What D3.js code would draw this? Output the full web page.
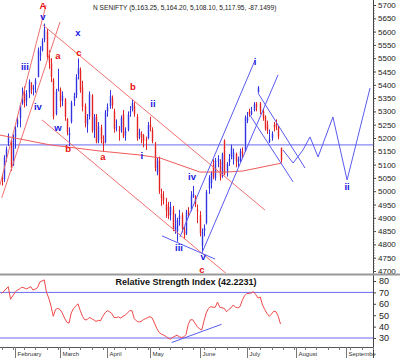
<!DOCTYPE html>
<html><head><meta charset="utf-8">
<script src="https://cdn.jsdelivr.net/npm/d3@7"></script>
<style>body{margin:0;background:#fff;} svg{display:block;font-family:Arial,"Liberation Sans",sans-serif;}</style>
</head><body><svg id="c" width="400" height="359"></svg>
<script>
// ---------- DATA ----------
const dates = ["01-23","01-24","01-25","01-27","01-30","01-31",
"02-01","02-02","02-03","02-06","02-07","02-08","02-09","02-10","02-13","02-14","02-15","02-16","02-17","02-21","02-22","02-23","02-24","02-27","02-28","02-29",
"03-01","03-02","03-05","03-06","03-07","03-09","03-12","03-13","03-14","03-15","03-16","03-19","03-20","03-21","03-22","03-23","03-26","03-27","03-28","03-29","03-30",
"04-02","04-03","04-04","04-09","04-10","04-11","04-12","04-13","04-16","04-17","04-18","04-19","04-20","04-23","04-24","04-25","04-26","04-27","04-30",
"05-02","05-03","05-04","05-07","05-08","05-09","05-10","05-11","05-14","05-15","05-16","05-17","05-18","05-21","05-22","05-23","05-24","05-25","05-28","05-29","05-30","05-31",
"06-01","06-04","06-05","06-06","06-07","06-08","06-11","06-12","06-13","06-14","06-15","06-18","06-19","06-20","06-21","06-22","06-25","06-26","06-27","06-28","06-29",
"07-02","07-03","07-04","07-05","07-06","07-09","07-10","07-11","07-12","07-13","07-16","07-17","07-18","07-19","07-20","07-23"];
const open  = [5050,5046,5130,5180,5190,5100,5205,5250,5275,5330,5365,5340,5370,5400,5385,5400,5430,5510,5530,5570,5600,5500,5480,5420,5290,5380,
5380,5340,5345,5270,5210,5260,5340,5360,5440,5455,5390,5320,5250,5280,5360,5230,5280,5190,5240,5190,5185,
5300,5320,5350,5300,5240,5230,5230,5290,5210,5230,5295,5310,5320,5280,5210,5215,5210,5195,5200,
5250,5230,5180,5070,5115,4990,4980,4950,4940,4910,4930,4850,4850,4895,4910,4850,4840,4925,4930,4980,4980,4930,
4910,4795,4850,4880,5010,5030,5100,5050,5110,5110,5060,5190,5070,5110,5130,5120,5140,5110,5115,5150,5150,
5265,5300,5290,5305,5330,5372,5330,5300,5280,5250,5185,5200,5250,5255,5240,5163.25];
const high  = [5065,5135,5168,5217,5195,5214,5245,5283,5330,5390,5394,5380,5420,5410,5400,5425,5540,5545,5575,5630,5610,5530,5500,5425,5385,5460,
5390,5375,5350,5275,5240,5340,5370,5440,5499,5465,5415,5330,5290,5375,5365,5290,5290,5260,5250,5210,5305,
5330,5380,5360,5310,5270,5245,5285,5305,5240,5300,5320,5345,5335,5290,5235,5225,5215,5205,5260,
5280,5240,5185,5125,5130,5010,5000,4975,4960,4960,4945,4915,4900,4930,4920,4865,4930,4940,5000,5020,4985,4950,
4925,4860,4875,5005,5060,5075,5120,5125,5135,5120,5145,5195,5110,5140,5175,5160,5145,5130,5160,5165,5285,
5298,5310,5317,5335,5335,5395,5335,5310,5285,5265,5232,5225,5260,5270,5245,5164.20];
const low   = [5021,5035,5110,5170,5076,5095,5160,5240,5240,5325,5315,5320,5350,5365,5360,5370,5428,5490,5525,5560,5495,5460,5410,5270,5285,5375,
5315,5320,5265,5210,5170,5255,5320,5350,5420,5370,5300,5240,5220,5270,5220,5200,5180,5180,5180,5150,5180,
5280,5310,5310,5220,5225,5190,5220,5200,5190,5225,5280,5300,5280,5190,5195,5180,5165,5155,5195,
5225,5180,5075,5060,4990,4945,4950,4900,4895,4890,4850,4840,4810,4870,4845,4820,4835,4900,4925,4975,4940,4880,
4830,4770,4830,4875,4990,5010,5045,5040,5090,5040,5050,5060,5055,5095,5120,5100,5090,5090,5110,5125,5148,
5256,5280,5285,5300,5300,5370,5290,5265,5228,5215,5181,5190,5225,5230,5195,5108.10];
const close = [5046,5127,5158,5205,5087,5199,5235,5270,5325,5361,5335,5368,5412,5381,5390,5416,5531,5522,5564,5607,5505,5483,5429,5281,5375,5385,
5339,5359,5280,5222,5220,5333,5359,5429,5463,5380,5317,5257,5274,5364,5228,5278,5184,5243,5194,5178,5296,
5317,5358,5322,5234,5243,5226,5276,5207,5226,5289,5300,5332,5290,5200,5222,5202,5189,5190,5248,
5239,5188,5087,5114,4999,4974,4965,4928,4907,4942,4858,4870,4891,4906,4860,4836,4921,4920,4985,4990,4950,4924,
4842,4848,4863,4997,5050,5068,5054,5115,5121,5054,5139,5064,5103,5121,5165,5146,5114,5120,5149,5141,5278,
5278,5287,5302,5327,5316,5390,5300,5275,5235,5228,5197,5216,5240,5242,5205,5117.95];
const rsi = [69,71,73,75,64,67,70,72,73,74.5,74,73,74,75,72,73,74,79,80,81,70,65,58,49,55,56,
55,52,47.5,44,43,52,56,58,60,54,49,46,46,48,47,46,44.5,45.5,45,49,52,
54,53,51.5,48,48,48.5,47.5,49,50,52,54,54,47,45,44,44.5,46,47,48,
48.7,47.5,43,38.5,35,33.5,32.5,31.5,30,29,30.5,31.5,32.5,31,30.5,31,33,42,46,46,43,40,
38,37,45,52,56,57.5,57,57,61.5,57,56.5,56,53,55,56.5,59,57,56.5,57.5,63,67,
69,69.2,69.5,70.6,68,65,66,59,55,51.5,49,51,53.5,53,49,42.2231];
const maLine = [[-0.7,5211],[21.6,5174],[29.6,5166],[43.8,5151],[61.6,5136],[70.4,5125],[88.2,5072],[100.2,5072],[107.3,5076],[124.7,5106]];
const hLevel = 5174;
const redLines = [
  [[-0.7,5023],[19.8,5700]],
  [[0.1,4975],[26,5636]],
  [[18.4,5625],[117.1,4929]],
  [[18,5268],[100.7,4685]]
];
const blueLines = [
  [[79.3,4828],[112.7,5493]],
  [[89.1,4768],[122.9,5437]],
  [[114,5369],[134.9,5087]],
  [[110.4,5286],[129.6,5035]],
  [[71.3,4832],[94.9,4745]]
];
const zigzag = [[125.1,5155],[129.6,5106],[134,5155],[137.1,5204],[140.7,5129],[147.3,5279],[153.6,5042],[163.8,5388]];
const rsiTrend = [[75.6,26],[97.8,42]];
const redLabels  = [["A",18.4,5698],["a",25.1,5512],["c",34.4,5523],["b",58.4,5395],["b",29.6,5162],["a",45.1,5129],["c",89.1,4704]];
const blueLabels = [["v",18.4,5657],["x",34,5598],["iii",10.4,5467],["iv",16.2,5320],["w",25.1,5241],["ii",67.3,5328],["i",62.4,5136],
  ["iii",78.9,4787],["iv",84.7,5057],["v",89.6,4753],["i",112.7,5486],["ii",153.6,5016]];
const monthLabels = ["February","March","April","May","June","July","August","Septembe"];
const monthIdx = [6,26,47,66,88,109,131,153];
const priceTicks = d3.range(4700,5701,50);
const rsiTicks = [30,40,50,60,70,80];
const rsiLevels = [70,30];
const title = "N SENIFTY (5,163.25, 5,164.20, 5,108.10, 5,117.95, -87.1499)";
const rsiTitle = "Relative Strength Index (42.2231)";

// ---------- SCALES ----------
const svg = d3.select("#c");
const AX = 373;
const x = d3.scaleLinear().domain([0,100]).range([1.5,226.5]);
const y = d3.scaleLinear().domain([4700,5700]).range([271,5]);
const yr = d3.scaleLinear().domain([30,80]).range([338,281]);

const defs = svg.append("defs");
defs.append("clipPath").attr("id","mainClip").append("rect").attr("x",0).attr("y",0).attr("width",AX).attr("height",273);
defs.append("clipPath").attr("id","rsiClip").append("rect").attr("x",0).attr("y",276).attr("width",AX).attr("height",70);

const main = svg.append("g").attr("clip-path","url(#mainClip)");
const line = d3.line().x(d=>x(d[0])).y(d=>y(d[1]));

// horizontal blue level
main.append("line").attr("x1",0).attr("x2",AX).attr("y1",y(hLevel)).attr("y2",y(hLevel))
  .attr("stroke","#6a6af0").attr("stroke-width",1);

// bars
const bars = main.append("g");
close.forEach((c,i)=>{
  const up = c >= open[i];
  const xi = Math.round(x(i));
  const light = up ? "#aab0f4" : "#f4a4a4";
  const dark  = up ? "#3434e0" : "#e42424";
  const top = y(Math.max(open[i],c)), bot = y(Math.min(open[i],c));
  bars.append("rect").attr("x",xi-0.5).attr("y",top).attr("width",2).attr("height",Math.max(1,bot-top)).attr("fill",light);
  bars.append("line").attr("x1",xi+0.5).attr("x2",xi+0.5).attr("y1",y(high[i])).attr("y2",y(low[i]))
    .attr("stroke",dark).attr("stroke-width",1);
});

// MA / red lines
main.append("path").attr("d",line(maLine)).attr("fill","none").attr("stroke","#f05a5a").attr("stroke-width",1);
redLines.forEach(l=>main.append("path").attr("d",line(l)).attr("fill","none").attr("stroke","#f07070").attr("stroke-width",1));
blueLines.forEach(l=>main.append("path").attr("d",line(l)).attr("fill","none").attr("stroke","#5a5af0").attr("stroke-width",1));
main.append("path").attr("d",line(zigzag)).attr("fill","none").attr("stroke","#5a5af0").attr("stroke-width",1);

// labels
const lab = svg.append("g").attr("font-size",9.5).attr("font-weight","bold").attr("text-anchor","middle").attr("dominant-baseline","central");
redLabels.forEach(d=>lab.append("text").attr("x",x(d[1])).attr("y",y(d[2])).attr("fill","#e81010").text(d[0]));
blueLabels.forEach(d=>lab.append("text").attr("x",x(d[1])).attr("y",y(d[2])).attr("fill","#2020e0").text(d[0]));

// title
svg.append("text").attr("x",93).attr("y",10).attr("font-size",6.6).attr("fill","#222").text(title);

// right price axis
const pa = svg.append("g").attr("transform",`translate(${AX},0)`)
  .call(d3.axisRight(y).tickValues(priceTicks).tickSize(3).tickPadding(2).tickFormat(d3.format("d")));
pa.select(".domain").remove();
pa.selectAll("text").attr("font-size",8).attr("fill","#222").attr("font-family","Arial, 'Liberation Sans', sans-serif");
pa.selectAll("line").attr("stroke","#444");
svg.append("g").attr("transform",`translate(${AX},0)`)
  .call(d3.axisRight(y).tickValues(d3.range(4700,5700,10)).tickSize(1.5).tickFormat(""))
  .call(g=>g.select(".domain").remove()).selectAll("line").attr("stroke","#666");
svg.append("line").attr("x1",AX+0.5).attr("x2",AX+0.5).attr("y1",0).attr("y2",358).attr("stroke","#444");

// separator
svg.append("line").attr("x1",0).attr("x2",400).attr("y1",274.5).attr("y2",274.5).attr("stroke","#999").attr("stroke-width",2);

// RSI panel
const rp = svg.append("g").attr("clip-path","url(#rsiClip)");
rsiLevels.forEach(v=>rp.append("line").attr("x1",0).attr("x2",AX).attr("y1",yr(v)).attr("y2",yr(v)).attr("stroke","#6a6af0").attr("stroke-width",1));
rp.append("path").attr("d",d3.line().x((d,i)=>x(i)).y(d=>yr(d))(rsi)).attr("fill","none").attr("stroke","#f04848").attr("stroke-width",1);
rp.append("path").attr("d",d3.line().x(d=>x(d[0])).y(d=>yr(d[1]))(rsiTrend)).attr("fill","none").attr("stroke","#5a5af0").attr("stroke-width",1);
svg.append("text").attr("x",186).attr("y",284.5).attr("text-anchor","middle").attr("font-size",9).attr("font-weight","bold").attr("fill","#111").text(rsiTitle);

const ra = svg.append("g").attr("transform",`translate(${AX},0)`)
  .call(d3.axisRight(yr).tickValues(rsiTicks).tickSize(3).tickPadding(3).tickFormat(d3.format("d")));
ra.select(".domain").remove();
ra.selectAll("text").attr("font-size",9).attr("fill","#222").attr("font-family","Arial, 'Liberation Sans', sans-serif");
ra.selectAll("line").attr("stroke","#444");

// x axis
svg.append("line").attr("x1",0).attr("x2",AX).attr("y1",347.5).attr("y2",347.5).attr("stroke","#555");
const xa = svg.append("g");
d3.range(0,166,5).forEach(i=>xa.append("line").attr("x1",Math.round(x(i))+0.5).attr("x2",Math.round(x(i))+0.5).attr("y1",347).attr("y2",350).attr("stroke","#777"));
monthIdx.forEach((m,k)=>{
  const xm = Math.round(x(m))+0.5;
  xa.append("line").attr("x1",xm).attr("x2",xm).attr("y1",347).attr("y2",358).attr("stroke","#777");
  xa.append("text").attr("x",xm+2).attr("y",356).attr("font-size",6).attr("fill","#333").text(monthLabels[k]);
});
</script></body></html>
